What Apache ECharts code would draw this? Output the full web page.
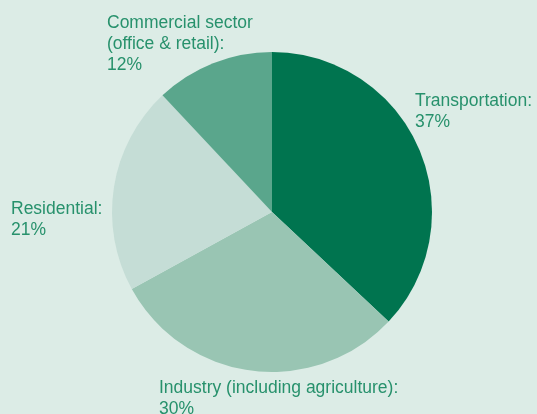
<!DOCTYPE html>
<html>
<head>
<meta charset="utf-8">
<script src="https://cdn.jsdelivr.net/npm/echarts@6/dist/echarts.min.js"></script>
<style>
html,body{margin:0;padding:0;background:#DCECE6;}
#chart{width:537px;height:414px;}
</style>
</head>
<body>
<div id="chart"></div>
<script>
const categories = ["Transportation", "Industry (including agriculture)", "Residential", "Commercial sector\n(office & retail)"];
const shares = [37, 30, 21, 12];
const colors = ["#00744F", "#99C5B3", "#C5DDD6", "#5AA68C"];
// label anchor positions (top-left), styling only
const labelPos = [[415, 91], [159, 378], [11, 199], [107, 13]];

const chart = echarts.init(document.getElementById('chart'), null, {renderer: 'canvas'});
chart.setOption({
  backgroundColor: '#DCECE6',
  animation: false,
  series: [{
    type: 'pie',
    center: [272, 212],
    radius: 160,
    startAngle: 90,
    clockwise: true,
    silent: true,
    data: categories.map((c, i) => ({name: c, value: shares[i], itemStyle: {color: colors[i]}})),
    label: {
      show: true,
      formatter: '{b}:\n{c}%',
      color: '#27916C',
      fontFamily: 'Liberation Sans, Arial, sans-serif',
      fontSize: 17.5,
      lineHeight: 21,
      align: 'left',
      overflow: 'none',
      width: 400
    },
    labelLine: {show: false},
    labelLayout: function (p) {
      const pos = labelPos[p.dataIndex];
      return {x: pos[0], y: pos[1], align: 'left', verticalAlign: 'top', hideOverlap: false, moveOverlap: false};
    }
  }]
});
</script>
</body>
</html>
